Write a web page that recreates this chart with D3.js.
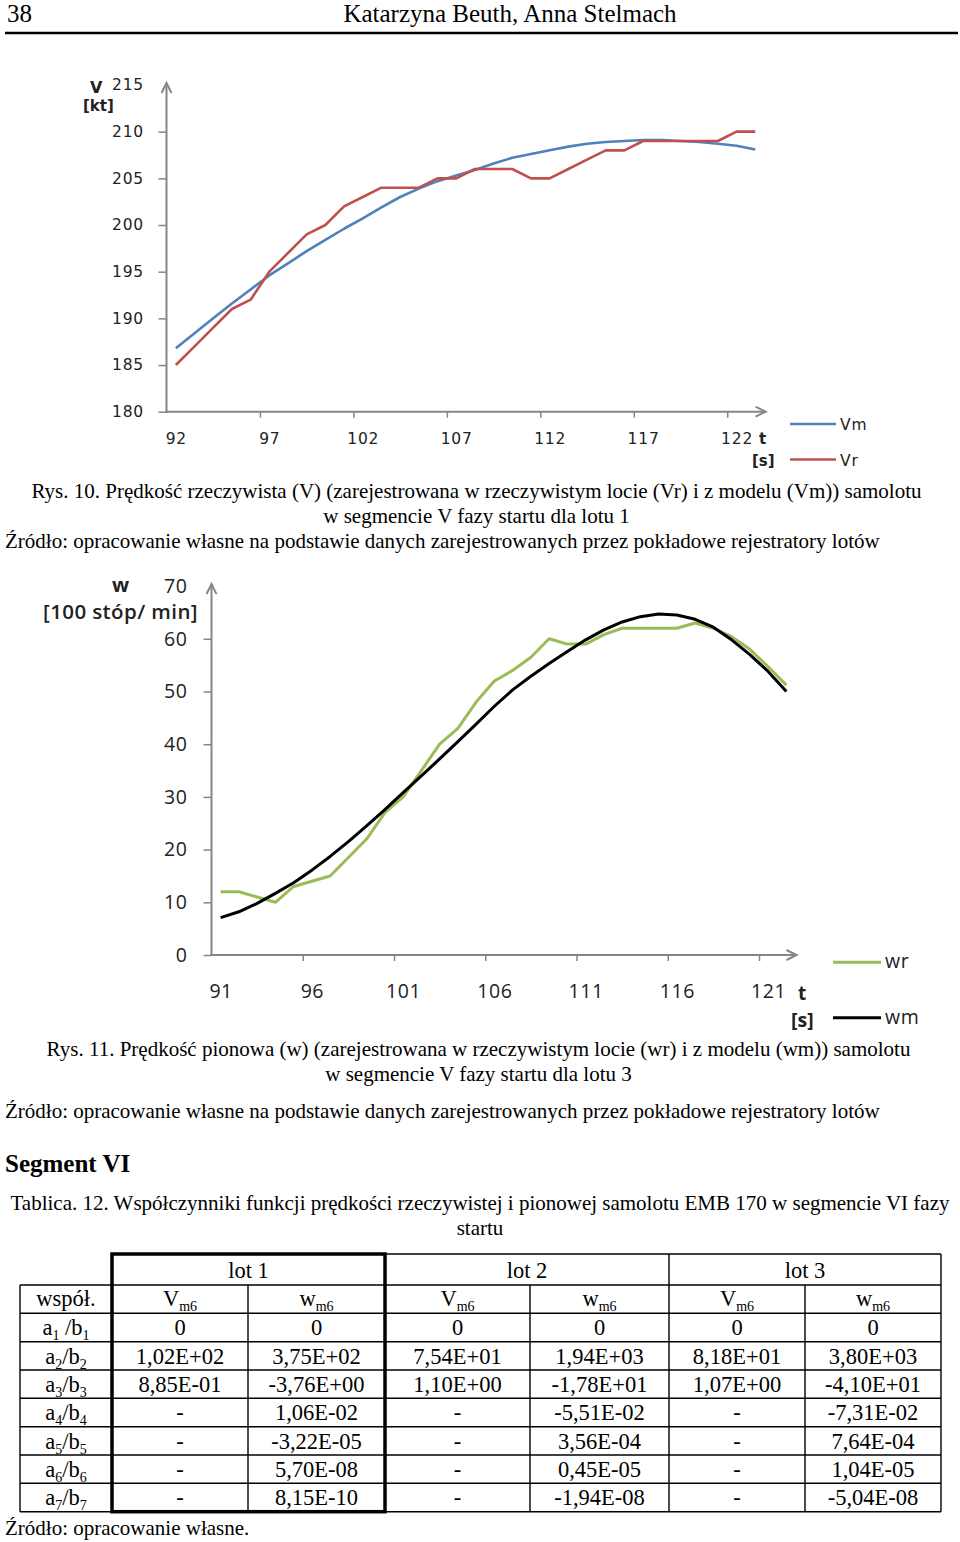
<!DOCTYPE html>
<html>
<head>
<meta charset="utf-8">
<script src="https://cdn.jsdelivr.net/npm/d3@7"></script>
<style>
body { margin: 0; background: #fff; }
svg { display: block; }
</style>
</head>
<body>
<svg id="page" width="960" height="1542"></svg>
<script>
// ---- chart 1 : V, lot 1 ----
var t1 = [92,93,94,95,96,97,98,99,100,101,102,103,104,105,106,107,
          108,109,110,111,112,113,114,115,116,117,118,119,120,121,122,123];
var vm1 = [186.8,188.4,190.0,191.6,193.1,194.6,195.9,197.2,198.4,199.6,200.7,201.9,203.0,203.9,204.7,205.3,
           205.9,206.6,207.2,207.6,208.0,208.4,208.7,208.9,209.0,209.1,209.1,209.0,208.9,208.7,208.5,208.1];
var vr1 = [185,187,189,191,192,195,197,199,200,202,203,204,204,204,205,205,
           206,206,206,205,205,206,207,208,208,209,209,209,209,209,210,210];
var yTicks1 = [180,185,190,195,200,205,210,215];
var xLabels1 = [92,97,102,107,112,117,122];

// ---- chart 2 : w, lot 3 ----
var t2 = [91,92,93,94,95,96,97,98,99,100,101,102,103,104,105,106,
          107,108,109,110,111,112,113,114,115,116,117,118,119,120,121,122];
var wr2 = [12,12,11,10,13,14,15,18.5,22,27,30,35,40,43,48,52,
           54,56.5,60,59,59,60.8,62,62,62,62,63,62,60.4,58,54.7,51.2];
var wm2 = [7.1,8.2,9.8,11.7,13.7,16.1,18.7,21.5,24.5,27.6,30.8,34.0,37.2,40.5,43.8,47.2,
           50.3,52.9,55.3,57.6,59.8,61.7,63.2,64.2,64.7,64.5,63.7,62.2,59.8,57.0,53.8,50.0];
var yTicks2 = [0,10,20,30,40,50,60,70];
var xLabels2 = [91,96,101,106,111,116,121];

// ---- table 12 ----
var lots = ["lot 1", "lot 2", "lot 3"];
var colVars = ["V", "w", "V", "w", "V", "w"];
var rowIdx = ["1", "2", "3", "4", "5", "6", "7"];
var tableRows = [
    ["0", "0", "0", "0", "0", "0"],
    ["1,02E+02", "3,75E+02", "7,54E+01", "1,94E+03", "8,18E+01", "3,80E+03"],
    ["8,85E-01", "-3,76E+00", "1,10E+00", "-1,78E+01", "1,07E+00", "-4,10E+01"],
    ["-", "1,06E-02", "-", "-5,51E-02", "-", "-7,31E-02"],
    ["-", "-3,22E-05", "-", "3,56E-04", "-", "7,64E-04"],
    ["-", "5,70E-08", "-", "0,45E-05", "-", "1,04E-05"],
    ["-", "8,15E-10", "-", "-1,94E-08", "-", "-5,04E-08"]
];

var svg = d3.select("#page");
var SERIF = "'Liberation Serif', 'Times New Roman', serif";
var AXIS = "#868686";

svg.append("defs").append("marker")
    .attr("id", "arrow")
    .attr("markerUnits", "userSpaceOnUse")
    .attr("markerWidth", 14).attr("markerHeight", 14)
    .attr("refX", 11).attr("refY", 6)
    .attr("orient", "auto")
    .append("path")
    .attr("d", "M1,1 L11,6 L1,11")
    .attr("fill", "none")
    .attr("stroke", AXIS)
    .attr("stroke-width", 2);

function txt(x, y, s, o){
    o = o || {};
    return svg.append("text")
        .attr("x", x).attr("y", y)
        .attr("font-family", o.font || SERIF)
        .attr("font-size", o.size || 21)
        .attr("font-weight", o.weight || "normal")
        .attr("text-anchor", o.anchor || "start")
        .attr("fill", o.fill || "#000")
        .text(s);
}

// text with subscripts, parts = [[string, isSub], ...]
function rich(sel, parts, subSize){
    var shift = 0;
    parts.forEach(function(p){
        var ts = sel.append("tspan").text(p[0]);
        var target = p[1] ? 5 : 0;
        if(target !== shift){ ts.attr("dy", target - shift); shift = target; }
        if(p[1]) ts.attr("font-size", subSize);
    });
}

function drawChart(c){
    var g = svg.append("g");
    var x = d3.scaleLinear().domain([c.t[0] - 0.5, c.t[c.t.length - 1] + 0.5]).range([c.left, c.right]);
    var y = d3.scaleLinear().domain(c.yDomain).range([c.bottom, c.top]);

    // y axis
    var ya = g.append("g").attr("transform", "translate(" + c.left + ",0)")
        .call(d3.axisLeft(y).tickValues(c.yTicks).tickSize(8).tickPadding(c.yPad));
    ya.select(".domain").remove();
    ya.selectAll(".tick line").attr("stroke", AXIS).attr("stroke-width", 1.5);
    ya.selectAll(".tick").filter(function(d){ return d === c.yDomain[1]; }).select("line").remove();
    ya.selectAll(".tick text").attr("font-family", c.font).attr("font-size", c.fs)
        .attr("fill", "#222").attr("letter-spacing", c.ls);

    // x axis: ticks between categories, labels under categories
    var bounds = c.xLabels.slice(1).map(function(v){ return v - 0.5; });
    var xt = g.append("g").attr("transform", "translate(0," + c.bottom + ")")
        .call(d3.axisBottom(x).tickValues(bounds).tickSize(6).tickFormat(""));
    xt.select(".domain").remove();
    xt.selectAll(".tick line").attr("stroke", AXIS).attr("stroke-width", 1.5);
    var xl = g.append("g").attr("transform", "translate(0," + c.bottom + ")")
        .call(d3.axisBottom(x).tickValues(c.xLabels).tickSize(0).tickPadding(c.xPad));
    xl.select(".domain").remove();
    xl.selectAll(".tick text").attr("font-family", c.font).attr("font-size", c.fs)
        .attr("fill", "#222").attr("letter-spacing", c.ls);

    g.append("line")
        .attr("x1", c.left).attr("y1", c.bottom + 1).attr("x2", c.left).attr("y2", c.top - 2)
        .attr("stroke", AXIS).attr("stroke-width", 2).attr("marker-end", "url(#arrow)");
    g.append("line")
        .attr("x1", c.left - 1).attr("y1", c.bottom).attr("x2", c.right + 1).attr("y2", c.bottom)
        .attr("stroke", AXIS).attr("stroke-width", 2).attr("marker-end", "url(#arrow)");

    c.series.forEach(function(s){
        var line = d3.line()
            .x(function(d, i){ return x(c.t[i]); })
            .y(function(d){ return y(d); });
        g.append("path").datum(s.values)
            .attr("d", line)
            .attr("fill", "none")
            .attr("stroke", s.color)
            .attr("stroke-width", s.width)
            .attr("stroke-linejoin", "round");
        g.append("line")
            .attr("x1", s.lx[0]).attr("x2", s.lx[1]).attr("y1", s.ly).attr("y2", s.ly)
            .attr("stroke", s.color).attr("stroke-width", s.width);
        txt(s.lx[1] + 4, s.ly + 6, s.name, {font: c.font, size: c.fs, fill: "#222"})
            .attr("letter-spacing", c.ls);
    });
}

// ---- page header ----
txt(7, 22, "38", {size: 25});
txt(510, 22, "Katarzyna Beuth, Anna Stelmach", {size: 25, anchor: "middle"});
svg.append("line").attr("x1", 5).attr("x2", 958).attr("y1", 33).attr("y2", 33)
    .attr("stroke", "#000").attr("stroke-width", 2.5);

// ---- chart 1 ----
var SANS1 = "'DejaVu Sans', Verdana, sans-serif";
drawChart({
    t: t1, left: 166.5, right: 764.6, bottom: 411.7, top: 85,
    yDomain: [180, 215], yTicks: yTicks1, xLabels: xLabels1,
    font: SANS1, fs: 15.5, ls: 0.8, yPad: 14.5, xPad: 21,
    series: [
        {name: "Vm", values: vm1, color: "#4f81bd", width: 2.6, lx: [790, 836], ly: 424},
        {name: "Vr", values: vr1, color: "#c0504d", width: 2.6, lx: [790, 836], ly: 459.5}
    ]
});
txt(90, 93, "V", {font: SANS1, size: 16, weight: "bold", fill: "#222"});
txt(83, 111, "[kt]", {font: SANS1, size: 15, weight: "bold", fill: "#222"});
txt(759, 444, "t", {font: SANS1, size: 15, weight: "bold", fill: "#222"});
txt(752, 466, "[s]", {font: SANS1, size: 15, weight: "bold", fill: "#222"});

// ---- caption 1 ----
txt(476.5, 498, "Rys. 10. Prędkość rzeczywista (V) (zarejestrowana w rzeczywistym locie (Vr) i z modelu (Vm)) samolotu", {anchor: "middle"});
txt(476.5, 523, "w segmencie V fazy startu dla lotu 1", {anchor: "middle"});
txt(5, 548, "Źródło: opracowanie własne na podstawie danych zarejestrowanych przez pokładowe rejestratory lotów");

// ---- chart 2 ----
var SANS2 = "'Open Sans', 'Noto Sans', sans-serif";
drawChart({
    t: t2, left: 211.5, right: 795.5, bottom: 955, top: 586.1,
    yDomain: [0, 70], yTicks: yTicks2, xLabels: xLabels2,
    font: SANS2, fs: 19.5, ls: 0.6, yPad: 16, xPad: 29,
    series: [
        {name: "wr", values: wr2, color: "#9bbb59", width: 3, lx: [833, 881], ly: 962.3},
        {name: "wm", values: wm2, color: "#000", width: 3, lx: [833, 881], ly: 1017.7}
    ]
});
txt(112, 592, "w", {font: SANS2, size: 20, weight: "bold", fill: "#222"});
txt(43, 619, "[100 stóp/ min]", {font: SANS2, size: 20.5, weight: 600, fill: "#222"})
    .attr("letter-spacing", 0.4);
txt(798, 1000, "t", {font: SANS2, size: 19, weight: "bold", fill: "#222"});
txt(791, 1027, "[s]", {font: SANS2, size: 19.5, weight: "bold", fill: "#222"});

// ---- caption 2 ----
txt(478.5, 1056, "Rys. 11. Prędkość pionowa (w) (zarejestrowana w rzeczywistym locie (wr) i z modelu (wm)) samolotu", {anchor: "middle"});
txt(478.5, 1081, "w segmencie V fazy startu dla lotu 3", {anchor: "middle"});
txt(5, 1118, "Źródło: opracowanie własne na podstawie danych zarejestrowanych przez pokładowe rejestratory lotów");

txt(5, 1172, "Segment VI", {size: 25, weight: "bold"});
txt(480, 1210, "Tablica. 12. Współczynniki funkcji prędkości rzeczywistej i pionowej samolotu EMB 170 w segmencie VI fazy", {anchor: "middle"});
txt(480, 1235, "startu", {anchor: "middle"});

// ---- table ----
var colX = [20, 112, 248, 385, 530, 669, 805, 941];
var rowY = [1254, 1285, 1313.3, 1341.7, 1370, 1398.3, 1426.7, 1455, 1483.3, 1511.7];
var tg = svg.append("g").attr("stroke", "#000").attr("stroke-width", 1.4);
// lot header row
tg.append("line").attr("x1", colX[1]).attr("x2", colX[7]).attr("y1", rowY[0]).attr("y2", rowY[0]);
[1, 3, 5, 7].forEach(function(ci){
    tg.append("line").attr("x1", colX[ci]).attr("x2", colX[ci]).attr("y1", rowY[0]).attr("y2", rowY[1]);
});
// body grid
rowY.slice(1).forEach(function(ry){
    tg.append("line").attr("x1", colX[0]).attr("x2", colX[7]).attr("y1", ry).attr("y2", ry);
});
colX.forEach(function(cx){
    tg.append("line").attr("x1", cx).attr("x2", cx).attr("y1", rowY[1]).attr("y2", rowY[9]);
});
// thick box round lot 1
svg.append("rect")
    .attr("x", colX[1]).attr("y", rowY[0])
    .attr("width", colX[3] - colX[1]).attr("height", rowY[9] - rowY[0])
    .attr("fill", "none").attr("stroke", "#000").attr("stroke-width", 3.5);

var TFS = 22.5;
lots.forEach(function(l, i){
    txt((colX[1 + 2 * i] + colX[3 + 2 * i]) / 2, rowY[1] - 7, l, {size: TFS, anchor: "middle"});
});
txt((colX[0] + colX[1]) / 2, rowY[2] - 7, "współ.", {size: TFS, anchor: "middle"});
colVars.forEach(function(v, i){
    var t = txt((colX[i + 1] + colX[i + 2]) / 2, rowY[2] - 7, "", {size: TFS, anchor: "middle"});
    rich(t, [[v, false], ["m6", true]], 14);
});
rowIdx.forEach(function(n, r){
    var cy = rowY[r + 2] + 22;
    var t = txt((colX[0] + colX[1]) / 2, cy, "", {size: TFS, anchor: "middle"});
    rich(t, [["a", false], [n, true], [r === 0 ? " /b" : "/b", false], [n, true]], 14);
    tableRows[r].forEach(function(v, c){
        txt((colX[c + 1] + colX[c + 2]) / 2, cy, v, {size: TFS, anchor: "middle"});
    });
});
txt(5, 1535, "Źródło: opracowanie własne.");
</script>
</body>
</html>
